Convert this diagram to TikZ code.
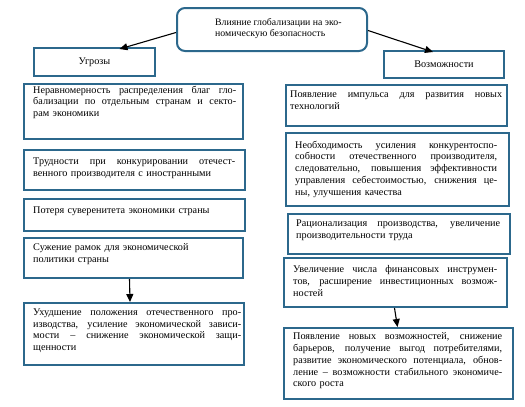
\documentclass[tikz,border=0pt]{standalone}
\usepackage{fontspec}
\setmainfont{Liberation Serif}
\usetikzlibrary{arrows.meta}
\definecolor{boxblue}{RGB}{44,104,140}
\newcommand\jl[1]{\makebox[\hsize][s]{\spaceskip=.25em plus 4em minus .12em\relax #1}}
\tikzset{
  box/.style={draw=boxblue, line width=2pt, fill=white, inner sep=0pt, anchor=north west},
  txt/.style={inner sep=0pt, anchor=north west, align=left, font=\fontsize{10.2}{11.8}\selectfont},
  arr/.style={line width=1.1pt, -{Triangle[width=7pt,length=8pt]}},
}
\begin{document}
\begin{tikzpicture}[x=1pt,y=-1pt]
\useasboundingbox (0,0) rectangle (525,407);
% top
\node[box, rounded corners=8pt, minimum width=190pt, minimum height=43pt] (top) at (176,7) {};
\node[txt, font=\fontsize{9.8}{11}\selectfont] (topt) at (215,18) {Влияние глобализации на эко-\\номическую безопасность};
% headers
\node[box, minimum width=121pt, minimum height=28pt, font=\fontsize{10.2}{11.8}\selectfont] (ug) at (33,47) {Угрозы};
\node[box, minimum width=120pt, minimum height=27pt, font=\fontsize{10.2}{11.8}\selectfont] (voz) at (383,50) {Возможности};
% left column
\node[box, minimum width=219pt, minimum height=55pt] (l1) at (23,83) {};
\node[txt, text width=203pt] (l1t) at (33,85.5) {\jl{Неравномерность распределения благ гло-}\\\jl{бализации по отдельным странам и секто-}\\рам экономики};
\node[box, minimum width=221pt, minimum height=40pt] (l2) at (23,149) {};
\node[txt, text width=202pt] (l2t) at (33,157.5) {\jl{Трудности при конкурировании отечест-}\\венного производителя с иностранными};
\node[box, minimum width=221pt, minimum height=32pt] (l3) at (23,198) {};
\node[txt, text width=202pt] (l3t) at (33,206.5) {Потеря суверенитета экономики страны};
\node[box, minimum width=219pt, minimum height=40pt] (l4) at (23,237) {};
\node[txt, text width=202pt] (l4t) at (33,243.5) {Сужение рамок для экономической\\политики страны};
\node[box, minimum width=220pt, minimum height=62pt] (l5) at (23,302) {};
\node[txt, text width=208pt] (l5t) at (33,308.5) {\jl{Ухудшение положения отечественного про-}\\\jl{изводства, усиление экономической зависи-}\\\jl{мости -- снижение экономической защи-}\\щенности};
% right column
\node[box, minimum width=221pt, minimum height=41pt] (r1) at (285,84) {};
\node[txt, text width=212pt] (r1t) at (290,90.5) {\jl{Появление импульса для развития новых}\\технологий};
\node[box, minimum width=223pt, minimum height=73pt] (r2) at (285,132) {};
\node[txt, text width=202pt] (r2t) at (295,140.5) {\jl{Необходимость усиления конкурентоспо-}\\\jl{собности отечественного производителя,}\\\jl{следовательно, повышения эффективности}\\\jl{управления себестоимостью, снижения це-}\\ны, улучшения качества};
\node[box, minimum width=222pt, minimum height=40pt] (r3) at (287,213) {};
\node[txt, text width=204pt] (r3t) at (296,219.5) {\jl{Рационализация производства, увеличение}\\производительности труда};
\node[box, minimum width=223pt, minimum height=49pt] (r4) at (283,257) {};
\node[txt, text width=204pt] (r4t) at (293,265.5) {\jl{Увеличение числа финансовых инструмен-}\\\jl{тов, расширение инвестиционных возмож-}\\ностей};
\node[box, minimum width=229pt, minimum height=71pt] (r5) at (283,327) {};
\node[txt, text width=209pt] (r5t) at (293,332.5) {\jl{Появление новых возможностей, снижение}\\\jl{барьеров, получение выгод потребителями,}\\\jl{развитие экономического потенциала, обнов-}\\\jl{ление -- возможности стабильного экономиче-}\\ского роста};
% arrows
\draw[arr] ([yshift=-3pt]top.west) -- ([xshift=25pt,yshift=-2pt]ug.north);
\draw[arr] ([yshift=-1pt]top.east) -- ([xshift=-11pt,yshift=-2pt]voz.north);
\draw[arr] ([xshift=-4pt]l4.south) -- ([xshift=-4pt]l5.north);
\draw[arr] ([xshift=-1pt]r4.south) -- ([xshift=-1pt]r5.north);
\end{tikzpicture}
\end{document}
